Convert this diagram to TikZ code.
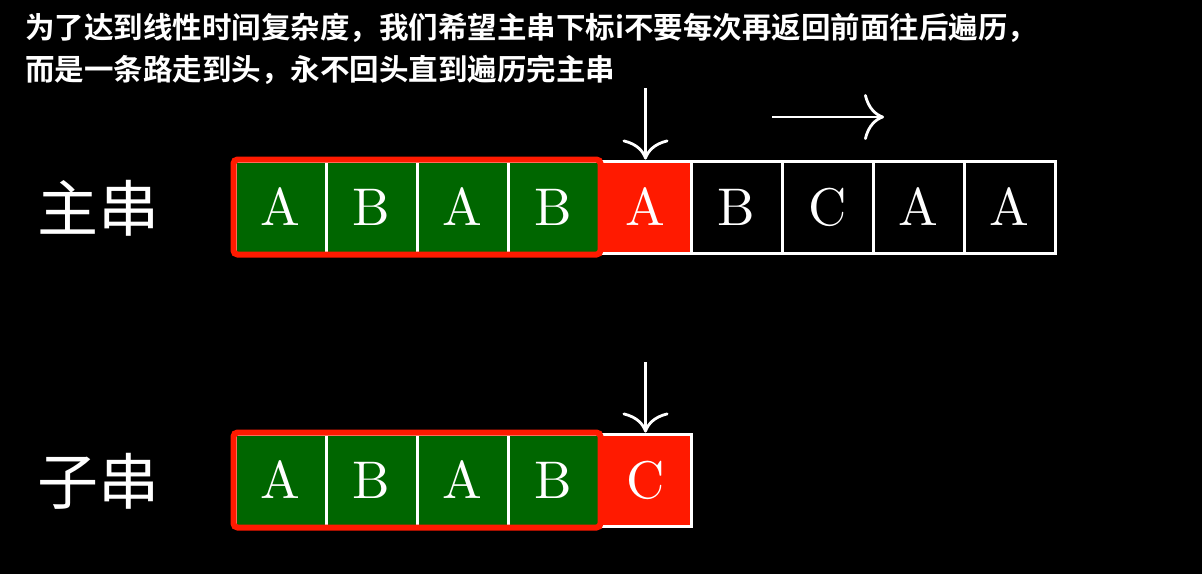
\documentclass[tikz,border=0pt]{standalone}
\usepackage{fontspec}
\usepackage{graphicx}
\newfontfamily\cjk{Noto Sans CJK SC}
\newfontfamily\cjkb{Noto Sans CJK SC Bold}
\usetikzlibrary{arrows.meta}
\definecolor{cgreen}{RGB}{0,102,0}
\definecolor{cred}{RGB}{255,26,0}
\newcommand{\cellchar}[1]{\scalebox{5.3}{#1}}
\tikzset{
  cell/.style={draw=white, line width=3pt, minimum width=91pt, minimum height=92pt, inner sep=0pt, text=white, font=\fontsize{10}{10}\selectfont},
  gcell/.style={cell, fill=cgreen},
  rcell/.style={cell, fill=cred},
  kcell/.style={cell, fill=black},
  hl/.style={draw=cred, line width=6pt, rounded corners=4pt},
  ptr/.style={white, line width=2.8pt, -{To[length=20pt,width=46pt]}},
  rowlabel/.style={text=white, font=\cjk\fontsize{61}{61}\selectfont, inner sep=0pt},
  title/.style={text=white, font=\cjkb\fontsize{29.5}{29.5}\selectfont, inner sep=0pt, anchor=base west}
}
\begin{document}
\begin{tikzpicture}[x=1pt,y=-1pt]
\fill[black] (0,0) rectangle (1202,574);
\useasboundingbox (0,0) rectangle (1202,574);
\node[title] (t1) at (25,38) {为了达到线性时间复杂度，我们希望主串下标i不要每次再返回前面往后遍历，};
\node[title] (t2) at (25,80) {而是一条路走到头，永不回头直到遍历完主串};
\node[rowlabel] (lm) at (98,208) {主串};
\node[rowlabel] (ls) at (98,481) {子串};
% main string
\node[gcell] (m1) at (280.5,207) {\cellchar{A}};
\node[gcell] (m2) at (371.5,207) {\cellchar{B}};
\node[gcell] (m3) at (462.5,207) {\cellchar{A}};
\node[gcell] (m4) at (553.5,207) {\cellchar{B}};
\node[rcell] (m5) at (645.5,207) {\cellchar{A}};
\node[kcell] (m6) at (736.5,207) {\cellchar{B}};
\node[kcell] (m7) at (827.5,207) {\cellchar{C}};
\node[kcell] (m8) at (918.5,207) {\cellchar{A}};
\node[kcell] (m9) at (1009.5,207) {\cellchar{A}};
\draw[hl] (m1.north west) rectangle (m4.south east);
% sub string
\node[gcell] (s1) at (280.5,480) {\cellchar{A}};
\node[gcell] (s2) at (371.5,480) {\cellchar{B}};
\node[gcell] (s3) at (462.5,480) {\cellchar{A}};
\node[gcell] (s4) at (553.5,480) {\cellchar{B}};
\node[rcell] (s5) at (645.5,480) {\cellchar{C}};
\draw[hl] (s1.north west) rectangle (s4.south east);
% pointers
\coordinate (pm) at (645.5,88);
\coordinate (ps) at (645.5,362);
\draw[ptr] (pm) -- (m5.north);
\draw[ptr] (ps) -- (s5.north);
\coordinate (d1) at (772,117);
\coordinate (d2) at (884,117);
\draw[ptr] (d1) -- (d2);
\end{tikzpicture}
\end{document}
